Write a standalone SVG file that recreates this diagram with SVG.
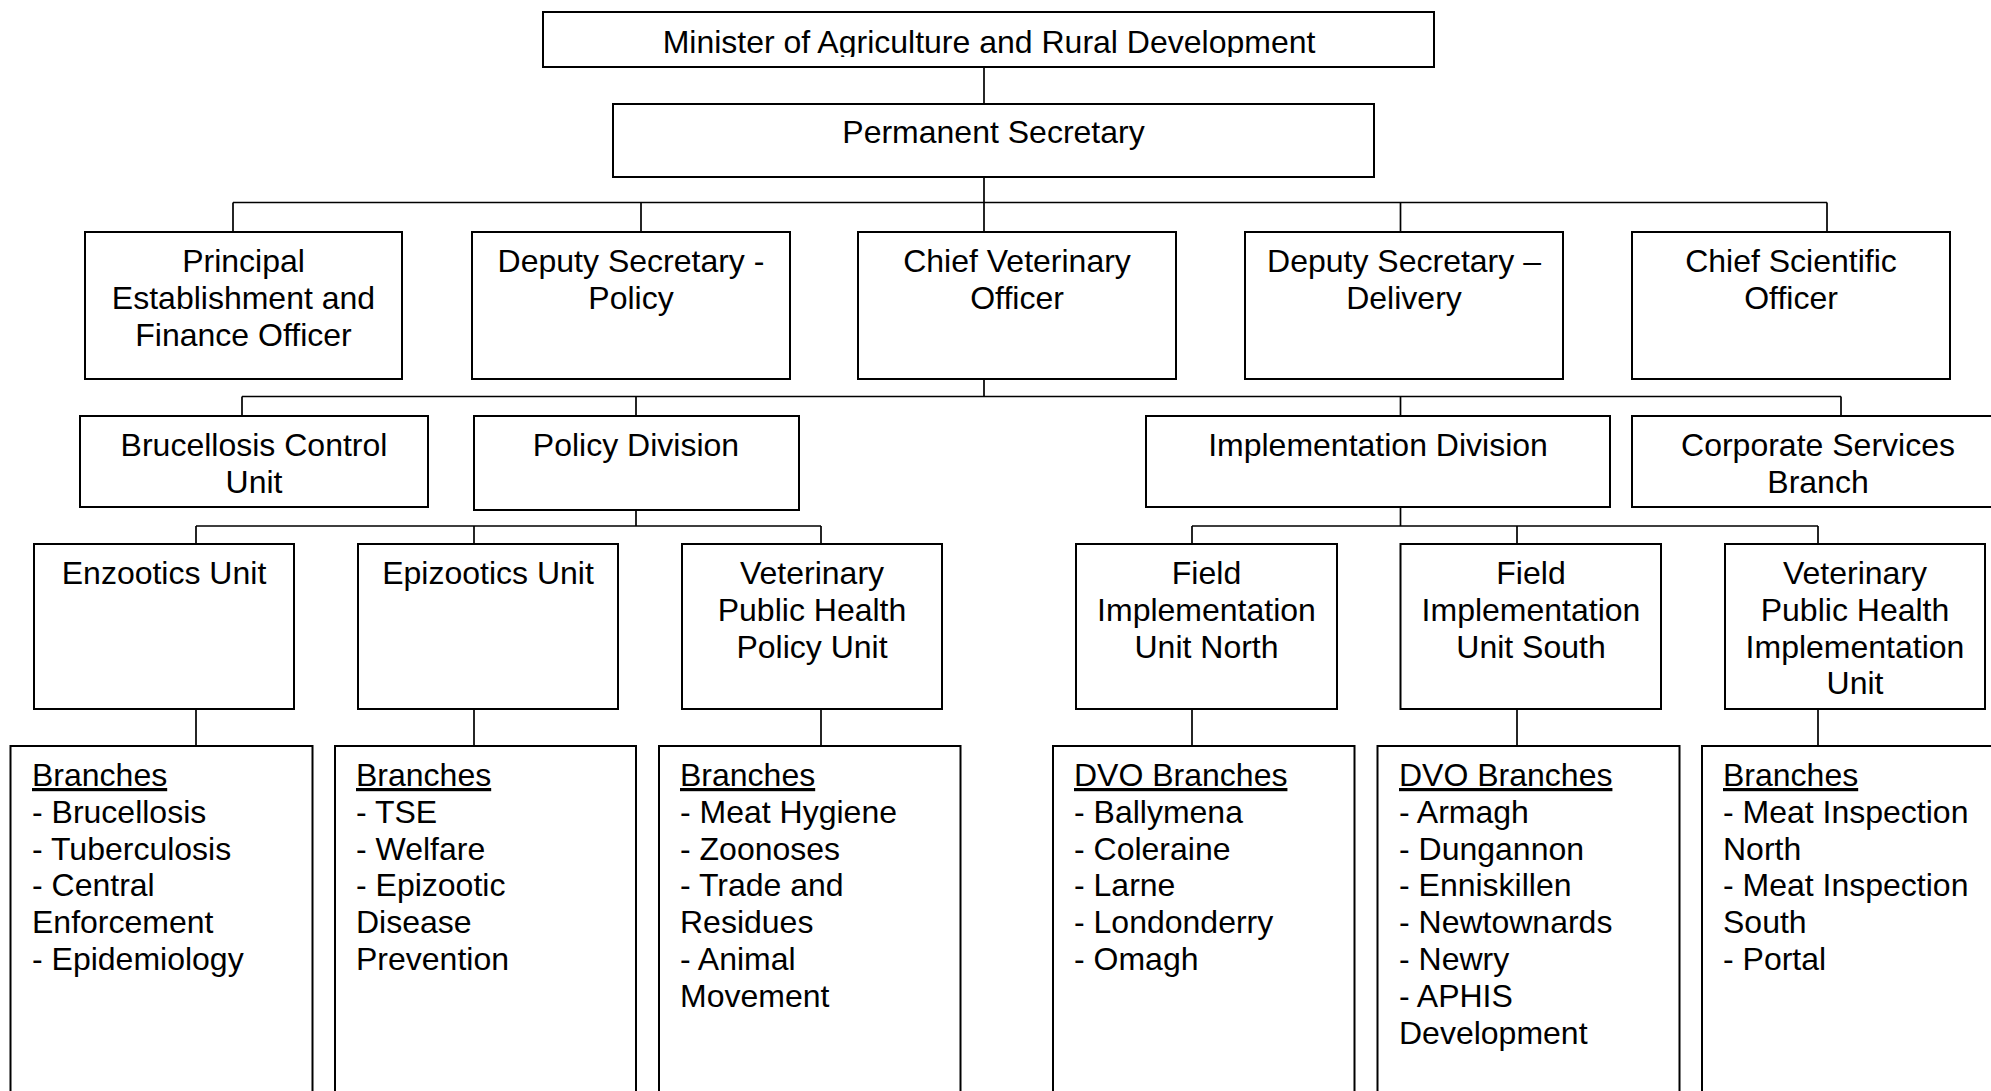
<svg xmlns="http://www.w3.org/2000/svg" width="1991" height="1091" viewBox="0 0 1991 1091">
<style>
.box{fill:#fff;stroke:#000;stroke-width:2}
.c{fill:none;stroke:#000;stroke-width:1.7}
text{font-family:"Liberation Sans",Arial,Helvetica,sans-serif;font-size:32px;fill:#000}
.m{text-anchor:middle}
.u{text-decoration:underline}
</style>
<defs>
<clipPath id="clipMin"><rect x="543" y="12" width="891" height="45"/></clipPath>
</defs>
<rect x="0" y="0" width="1991" height="1091" fill="#fff"/>

<g id="connectors">
<path class="c" d="M984 67V104"/>
<path class="c" d="M984 177V202.5M233 202.5H1827M233 202.5V232M641 202.5V232M984 202.5V232M1400.5 202.5V232M1827 202.5V232"/>
<path class="c" d="M984 379V396.5M242 396.5H1841M242 396.5V416M636 396.5V416M1400.5 396.5V416M1841 396.5V416"/>
<path class="c" d="M636 506V526M196 526H821M196 526V544M474 526V544M821 526V544"/>
<path class="c" d="M1400.5 507V526M1192 526H1818M1192 526V544M1517 526V544M1818 526V544"/>
<path class="c" d="M196 709V746M474 709V746M821 709V746M1192 709V746M1517 709V746M1818 709V746"/>
</g>

<g id="minister">
<rect class="box" x="543" y="12" width="891" height="55"/>
<text class="m" x="989" y="53" clip-path="url(#clipMin)">Minister of Agriculture and Rural Development</text>
</g>
<g id="permanent-secretary">
<rect class="box" x="613" y="104" width="761" height="73"/>
<text class="m" x="993.5" y="143">Permanent Secretary</text>
</g>

<g id="principal-establishment">
<rect class="box" x="85" y="232" width="317" height="147"/>
<text class="m" x="243.5" y="272">Principal</text>
<text class="m" x="243.5" y="308.8">Establishment and</text>
<text class="m" x="243.5" y="345.6">Finance Officer</text>
</g>
<g id="deputy-secretary-policy">
<rect class="box" x="472" y="232" width="318" height="147"/>
<text class="m" x="631" y="272">Deputy Secretary -</text>
<text class="m" x="631" y="308.8">Policy</text>
</g>
<g id="chief-veterinary-officer">
<rect class="box" x="858" y="232" width="318" height="147"/>
<text class="m" x="1017" y="272">Chief Veterinary</text>
<text class="m" x="1017" y="308.8">Officer</text>
</g>
<g id="deputy-secretary-delivery">
<rect class="box" x="1245" y="232" width="318" height="147"/>
<text class="m" x="1404" y="272">Deputy Secretary –</text>
<text class="m" x="1404" y="308.8">Delivery</text>
</g>
<g id="chief-scientific-officer">
<rect class="box" x="1632" y="232" width="318" height="147"/>
<text class="m" x="1791" y="272">Chief Scientific</text>
<text class="m" x="1791" y="308.8">Officer</text>
</g>

<g id="brucellosis-control-unit">
<rect class="box" x="80" y="416" width="348" height="91"/>
<text class="m" x="254" y="456">Brucellosis Control</text>
<text class="m" x="254" y="492.8">Unit</text>
</g>
<g id="policy-division">
<rect class="box" x="474" y="416" width="325" height="94"/>
<text class="m" x="636" y="456">Policy Division</text>
</g>
<g id="implementation-division">
<rect class="box" x="1146" y="416" width="464" height="91"/>
<text class="m" x="1378" y="456">Implementation Division</text>
</g>
<g id="corporate-services-branch">
<rect class="box" x="1632" y="416" width="372" height="91"/>
<text class="m" x="1818" y="456">Corporate Services</text>
<text class="m" x="1818" y="492.8">Branch</text>
</g>

<g id="enzootics-unit">
<rect class="box" x="34" y="544" width="260" height="165"/>
<text class="m" x="164" y="584">Enzootics Unit</text>
</g>
<g id="epizootics-unit">
<rect class="box" x="358" y="544" width="260" height="165"/>
<text class="m" x="488" y="584">Epizootics Unit</text>
</g>
<g id="vph-policy-unit">
<rect class="box" x="682" y="544" width="260" height="165"/>
<text class="m" x="812" y="584">Veterinary</text>
<text class="m" x="812" y="620.8">Public Health</text>
<text class="m" x="812" y="657.6">Policy Unit</text>
</g>
<g id="fiu-north">
<rect class="box" x="1076" y="544" width="261" height="165"/>
<text class="m" x="1206.5" y="584">Field</text>
<text class="m" x="1206.5" y="620.8">Implementation</text>
<text class="m" x="1206.5" y="657.6">Unit North</text>
</g>
<g id="fiu-south">
<rect class="box" x="1400.5" y="544" width="260.5" height="165"/>
<text class="m" x="1531" y="584">Field</text>
<text class="m" x="1531" y="620.8">Implementation</text>
<text class="m" x="1531" y="657.6">Unit South</text>
</g>
<g id="vph-implementation-unit">
<rect class="box" x="1725" y="544" width="260" height="165"/>
<text class="m" x="1855" y="584">Veterinary</text>
<text class="m" x="1855" y="620.8">Public Health</text>
<text class="m" x="1855" y="657.6">Implementation</text>
<text class="m" x="1855" y="694.4">Unit</text>
</g>

<g id="enzootics-branches">
<rect class="box" x="10.5" y="746" width="302" height="360"/>
<text x="32" y="786" class="u">Branches</text>
<text x="32" y="822.8">- Brucellosis</text>
<text x="32" y="859.6">- Tuberculosis</text>
<text x="32" y="896.4">- Central</text>
<text x="32" y="933.2">Enforcement</text>
<text x="32" y="970">- Epidemiology</text>
</g>
<g id="epizootics-branches">
<rect class="box" x="335" y="746" width="301" height="360"/>
<text x="356" y="786" class="u">Branches</text>
<text x="356" y="822.8">- TSE</text>
<text x="356" y="859.6">- Welfare</text>
<text x="356" y="896.4">- Epizootic</text>
<text x="356" y="933.2">Disease</text>
<text x="356" y="970">Prevention</text>
</g>
<g id="vph-policy-branches">
<rect class="box" x="659" y="746" width="301.5" height="360"/>
<text x="680" y="786" class="u">Branches</text>
<text x="680" y="822.8">- Meat Hygiene</text>
<text x="680" y="859.6">- Zoonoses</text>
<text x="680" y="896.4">- Trade and</text>
<text x="680" y="933.2">Residues</text>
<text x="680" y="970">- Animal</text>
<text x="680" y="1006.8">Movement</text>
</g>
<g id="north-dvo-branches">
<rect class="box" x="1053" y="746" width="301.5" height="360"/>
<text x="1074" y="786" class="u">DVO Branches</text>
<text x="1074" y="822.8">- Ballymena</text>
<text x="1074" y="859.6">- Coleraine</text>
<text x="1074" y="896.4">- Larne</text>
<text x="1074" y="933.2">- Londonderry</text>
<text x="1074" y="970">- Omagh</text>
</g>
<g id="south-dvo-branches">
<rect class="box" x="1377.5" y="746" width="302" height="360"/>
<text x="1399" y="786" class="u">DVO Branches</text>
<text x="1399" y="822.8">- Armagh</text>
<text x="1399" y="859.6">- Dungannon</text>
<text x="1399" y="896.4">- Enniskillen</text>
<text x="1399" y="933.2">- Newtownards</text>
<text x="1399" y="970">- Newry</text>
<text x="1399" y="1006.8">- APHIS</text>
<text x="1399" y="1043.6">Development</text>
</g>
<g id="vph-implementation-branches">
<rect class="box" x="1702" y="746" width="302" height="360"/>
<text x="1723" y="786" class="u">Branches</text>
<text x="1723" y="822.8">- Meat Inspection</text>
<text x="1723" y="859.6">North</text>
<text x="1723" y="896.4">- Meat Inspection</text>
<text x="1723" y="933.2">South</text>
<text x="1723" y="970">- Portal</text>
</g>
</svg>
